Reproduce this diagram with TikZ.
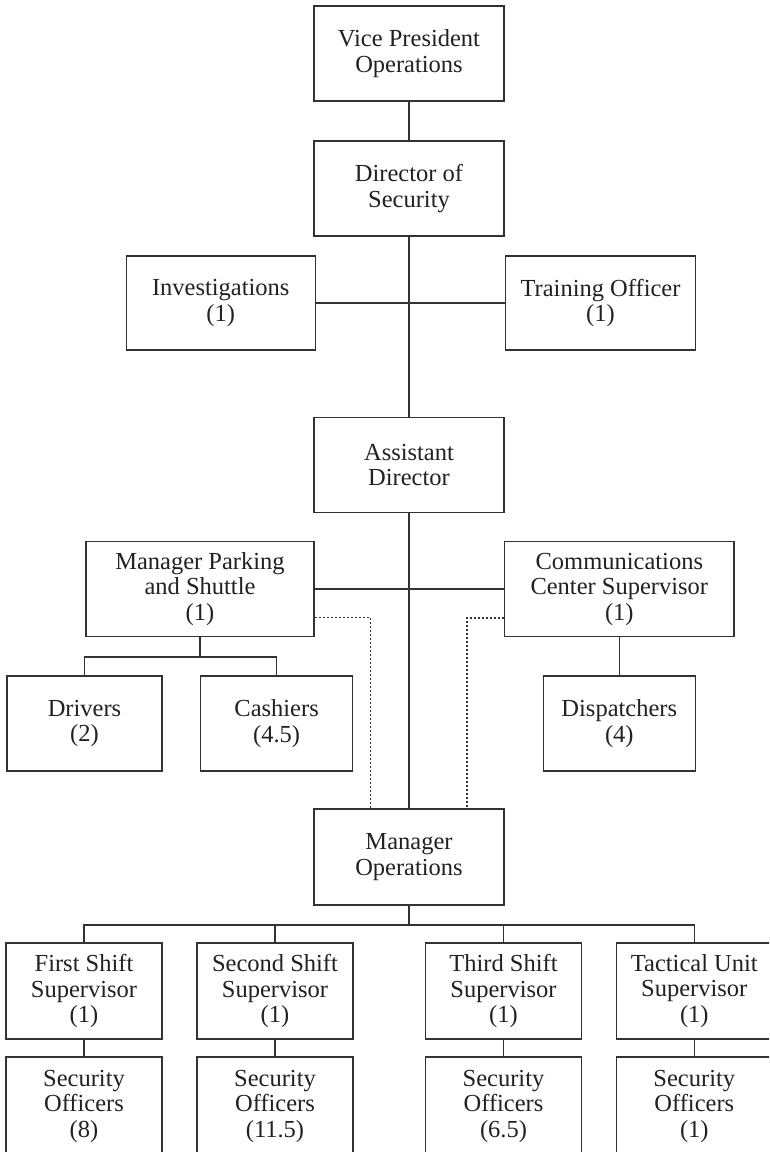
\documentclass[tikz,border=0pt]{standalone}
\usepackage{fontspec}
\setmainfont{Liberation Serif}
\definecolor{linegray}{rgb}{0.2,0.2,0.2}
\definecolor{textgray}{rgb}{0.13,0.13,0.13}
\begin{document}
\begin{tikzpicture}[x=1pt,y=-1pt,
  box/.style={draw=linegray, line width=1.4pt, rectangle, inner sep=0pt,
    align=center, text=textgray, font=\fontsize{24.5}{25.5}\selectfont},
  mid/.style={box, minimum width=190pt, minimum height=95pt},
  small/.style={box, minimum width=155pt, minimum height=95pt},
  link/.style={draw=linegray, line width=1.4pt},
  dotlink/.style={draw=linegray, line width=1.2pt, dash pattern=on 2pt off 2pt}]

\clip (0,0) rectangle (769,1152);

% central column
\node[mid] (vp)   at (409,53.5)  {Vice President\\Operations};
\node[mid] (dir)  at (409,188.5) {Director of\\Security};
\node[mid] (asst) at (409,465)   {Assistant\\Director};
\node[mid, minimum height=96pt] (mops) at (409,857) {Manager\\Operations};

% staff units beside the director
\node[mid, minimum width=189pt, minimum height=94pt] (inv)   at (220.75,303) {Investigations\\(1)};
\node[mid, minimum height=94pt] (train) at (600.5,303) {Training Officer\\(1)};

% managers beside the assistant director
\node[box, minimum width=228pt, minimum height=95pt] (park) at (200,589) {Manager Parking\\and Shuttle\\(1)};
\node[box, minimum width=229.5pt, minimum height=95pt] (comm) at (619.3,589) {Communications\\Center Supervisor\\(1)};

\node[small] (drivers)  at (84.5,723.5)  {Drivers\\(2)};
\node[small, minimum width=152pt] (cashiers) at (276.6,723.5) {Cashiers\\(4.5)};
\node[small, minimum width=152pt] (dispatch) at (619.3,723.5) {Dispatchers\\(4)};

% shift supervisors
\node[small, minimum width=156pt, minimum height=96pt] (first)  at (84,991)    {First Shift\\Supervisor\\(1)};
\node[small, minimum width=156pt, minimum height=96pt] (second) at (275,991)   {Second Shift\\Supervisor\\(1)};
\node[small, minimum width=156pt, minimum height=96pt] (third)  at (503.5,991) {Third Shift\\Supervisor\\(1)};
\node[small, minimum width=156pt, minimum height=96pt] (tact)   at (694.3,991) {Tactical Unit\\Supervisor\\(1)};

% security officers
\node[small, minimum width=156pt, minimum height=98pt] (off1) at (84,1106)    {Security\\Officers\\(8)};
\node[small, minimum width=156pt, minimum height=98pt] (off2) at (275,1106)   {Security\\Officers\\(11.5)};
\node[small, minimum width=156pt, minimum height=98pt] (off3) at (503.5,1106) {Security\\Officers\\(6.5)};
\node[small, minimum width=156pt, minimum height=98pt] (off4) at (694.3,1106) {Security\\Officers\\(1)};

% bus points
\coordinate (pbus) at (200,657);
\coordinate (obus) at (409,925);
\coordinate (dl) at (370.3,0);
\coordinate (dr) at (467,0);

% solid reporting lines
\draw[link] (vp.south) -- (dir.north);
\draw[link] (dir.south) -- (asst.north);
\draw[link] (asst.south) -- (mops.north);
\draw[link] (inv.east) -- (train.west);
\draw[link] (park.east) -- (comm.west);
\draw[link] (park.south) -- (pbus);
\draw[link] (drivers.north) |- (pbus) -| (cashiers.north);
\draw[link] (comm.south) -- (dispatch.north);
\draw[link] (mops.south) -- (obus);
\draw[link] (first.north) |- (obus) -| (tact.north);
\draw[link] (second.north) -- (second.north |- obus);
\draw[link] (third.north) -- (third.north |- obus);
\draw[link] (first.south) -- (off1.north);
\draw[link] (second.south) -- (off2.north);
\draw[link] (third.south) -- (off3.north);
\draw[link] (tact.south) -- (off4.north);

% dotted coordination lines
\draw[dotlink] ([yshift=-28.5pt]park.east) -| (mops.north -| dl);
\draw[dotlink] ([yshift=-29pt]comm.west) -| (mops.north -| dr);
\end{tikzpicture}
\end{document}
